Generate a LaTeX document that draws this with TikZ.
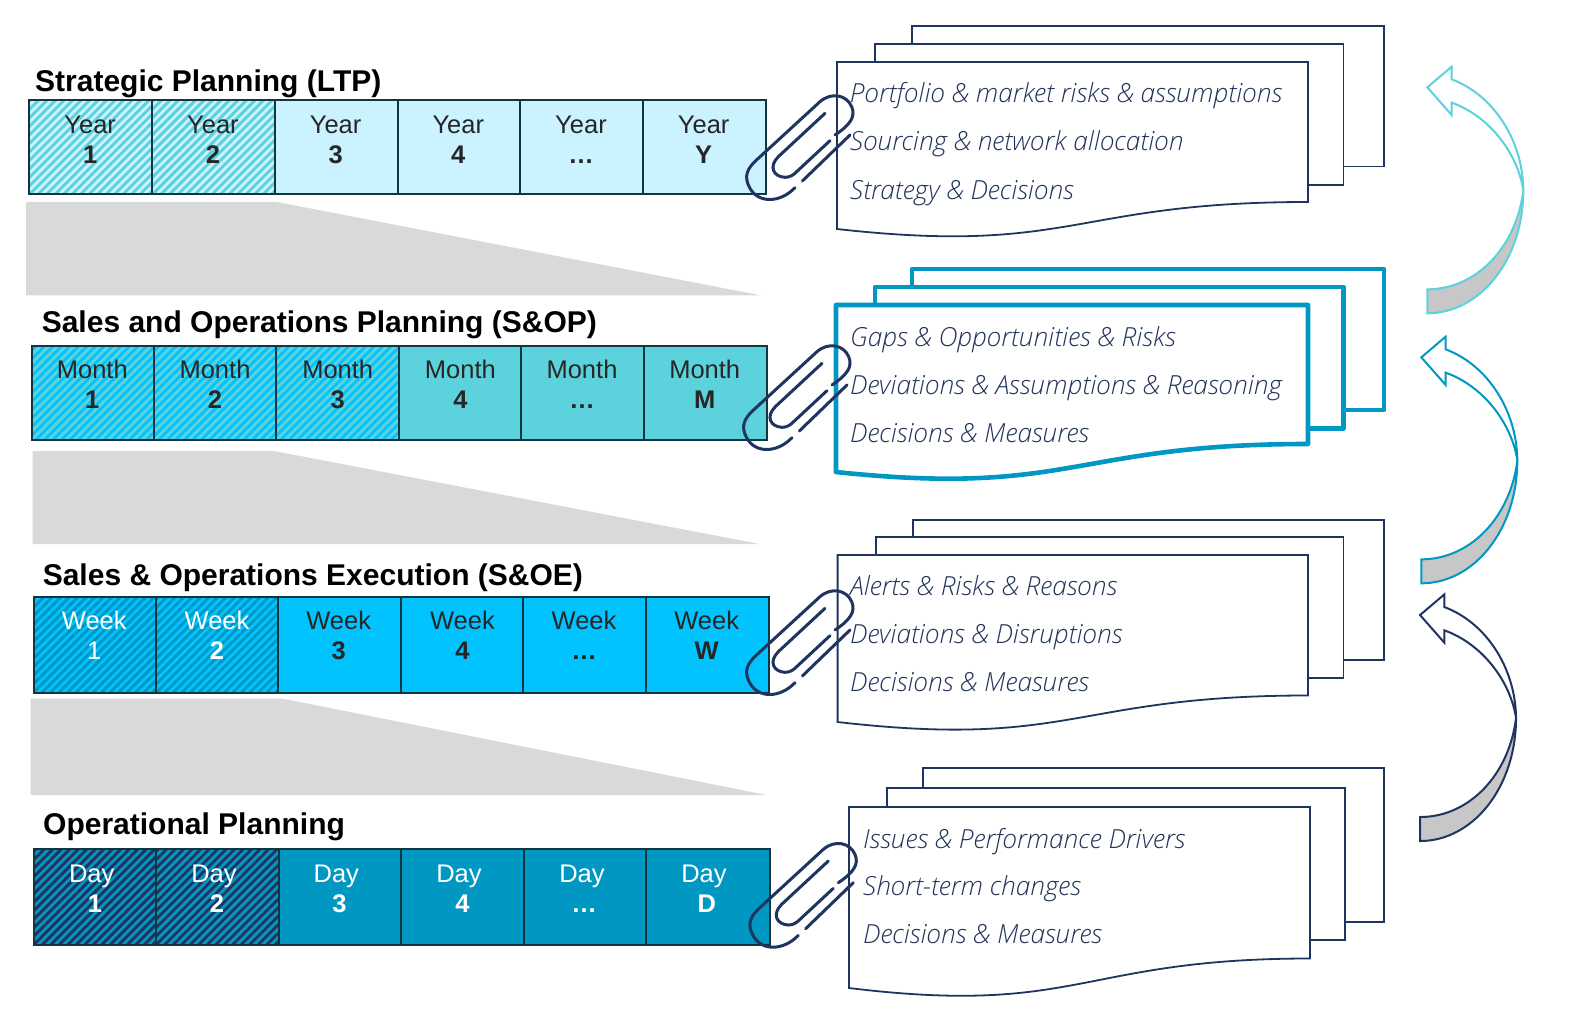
\documentclass[tikz,border=0pt]{standalone}
\usepackage{fontspec}
\setmainfont{Liberation Sans}
\newfontfamily\docfont[ItalicFont={Open Sans Light Italic}]{Open Sans Light}
\definecolor{navy}{HTML}{1F3560}
\definecolor{teal}{HTML}{5CD2DC}
\definecolor{pale}{HTML}{CBF2FF}
\definecolor{sky}{HTML}{00C3FF}
\definecolor{ocean}{HTML}{0098C3}
\definecolor{trapgrey}{HTML}{D9D9D9}
\definecolor{inkline}{HTML}{12363F}
\definecolor{doctext}{HTML}{22335A}
\tikzset{
  title/.style={anchor=base west,font=\fontsize{30}{30}\selectfont\bfseries,inner sep=0,text=black},
  cellbox/.style={draw=inkline,line width=2pt},
  celltop/.style={anchor=base,font=\fontsize{25.5}{25.5}\selectfont,inner sep=0},
  cellnum/.style={anchor=base,font=\fontsize{25.5}{25.5}\selectfont\bfseries,inner sep=0},
  trap/.style={fill=trapgrey,draw=none},
  sheet/.style={fill=white,draw=navy,line width=1.8pt,line join=miter},
  boldsheet/.style={fill=white,draw=ocean,line width=4.6pt,line join=round},
  doctxt/.style={anchor=base west,font=\docfont\itshape\fontsize{26.3}{26.3}\selectfont,inner sep=0,text=doctext},
  clipline/.style={draw=navy,line width=3pt,line cap=round},
}
% plain cell: x0 x1 y0 y1 fill
\newcommand{\plaincell}[5]{\path[cellbox,fill=#5] (#1,#3) rectangle (#2,#4);}
% hatched cell: x0 x1 y0 y1 fill stripe
\newcommand{\hatchcell}[6]{%
  \fill[#5] (#1,#3) rectangle (#2,#4);
  \begin{scope}
    \clip (#1,#3) rectangle (#2,#4);
    \foreach \k in {-12,...,15}{
      \draw[#6,line width=2.9pt] ({#1+\k*8.5},{#4}) -- ++(120,-120);
    }
  \end{scope}
  \draw[cellbox] (#1,#3) rectangle (#2,#4);}
% paper: left top right bry bly style
\newcommand{\paper}[6]{%
  \path[#6] (#1,#2) -- (#3,#2) -- (#3,#4)
    .. controls ({(#1+#3)/2},#4) and ({(#1+#3)/2},{#2+(#4-#2)*1.381}) .. (#1,#5) -- cycle;}
\newcommand{\backsheet}[5]{\path[#5] (#1,#2) rectangle (#3,#4);}
% clip
\newcommand{\paperclip}[2]{%
  \begin{scope}[shift={(#1,#2)},xscale=1/3,yscale=1/3]
    \draw[clipline] (195,563) .. controls (150,610) and (85,610) .. (60,565)
      .. controls (40,530) and (50,505) .. (85,475) -- (270,305)
      .. controls (305,275) and (350,285) .. (365,320)
      .. controls (378,350) and (360,375) .. (315,405);
    \draw[clipline] (285,340) -- (145,470) .. controls (115,500) and (130,530) .. (165,532)
      .. controls (180,532) and (190,525) .. (200,515) -- (300,422);
    \draw[clipline] (217,543) -- (360,405);
  \end{scope}}
% curved arrow
\newcommand{\turnarrow}[3]{%
  \begin{scope}[shift={(#1,#2)},xscale=1/3,yscale=1/3]
    \fill[black!22] (142,748) .. controls (290,748) and (410,620) .. (430,450)
      .. controls (430,660) and (300,820) .. (142,820) -- cycle;
    \draw[#3,line width=2pt,line join=miter]
      (142,748) .. controls (290,748) and (410,620) .. (430,450)
      .. controls (410,330) and (320,225) .. (215,188) -- (215,225) -- (142,142) -- (215,80) -- (215,118)
      .. controls (340,165) and (428,300) .. (430,450)
      .. controls (430,660) and (300,820) .. (142,820) -- cycle;
  \end{scope}}
\begin{document}
\begin{tikzpicture}[x=1pt,y=-1pt]
\useasboundingbox (0,0) rectangle (1590,1016);
\fill[white] (0,0) rectangle (1590,1016);
% trapezoids
\fill[trap] (26,202) -- (277,202) -- (761.5,295.5) -- (26,295.5) -- cycle;
\fill[trap] (32.5,451) -- (274,451) -- (759.5,544) -- (32.5,544) -- cycle;
\fill[trap] (30.5,698.5) -- (282,698.5) -- (766.6,795) -- (30.5,795) -- cycle;
% row 1
\node[title] (t1) at (35,92) {Strategic Planning (LTP)};
\hatchcell{29.4}{152.3}{100.5}{194.5}{pale}{teal}
\hatchcell{152.3}{275}{100.5}{194.5}{pale}{teal}
\plaincell{275}{398}{100.5}{194.5}{pale}
\plaincell{398}{520}{100.5}{194.5}{pale}
\plaincell{520}{643}{100.5}{194.5}{pale}
\plaincell{643}{765.5}{100.5}{194.5}{pale}
\foreach \n/\x/\a/\b in {a/90.2/Year/1,b/212.9/Year/2,c/335.6/Year/3,d/458.3/Year/4,e/581/Year/…,f/703.7/Year/Y}{
  \node[celltop,text=black!85] (y\n) at (\x,134) {\a};
  \node[cellnum,text=black!85] (yy\n) at (\x,164) {\b};
}
% row 2
\node[title] (t2) at (41.6,332) {Sales and Operations Planning (S\&OP)};
\hatchcell{31.5}{154.3}{346}{440}{sky}{teal}
\hatchcell{154.3}{276.2}{346}{440}{sky}{teal}
\hatchcell{276.2}{399}{346}{440}{sky}{teal}
\plaincell{399}{521}{346}{440}{teal}
\plaincell{521}{644}{346}{440}{teal}
\plaincell{644}{766.5}{346}{440}{teal}
\foreach \n/\x/\a/\b in {a/92.3/Month/1,b/215/Month/2,c/337.7/Month/3,d/460.4/Month/4,e/582/Month/…,f/704.7/Month/M}{
  \node[celltop,text=black!85] (m\n) at (\x,378) {\a};
  \node[cellnum,text=black!85] (mm\n) at (\x,408) {\b};
}
% row 3
\node[title] (t3) at (42.6,585) {Sales \& Operations Execution (S\&OE)};
\hatchcell{33.5}{156.4}{597}{692.5}{sky}{ocean}
\hatchcell{156.4}{278.2}{597}{692.5}{sky}{ocean}
\plaincell{278.2}{401}{597}{692.5}{sky}
\plaincell{401}{523}{597}{692.5}{sky}
\plaincell{523}{646}{597}{692.5}{sky}
\plaincell{646}{768.5}{597}{692.5}{sky}
\foreach \n/\x/\a/\c in {a/94.3/Week/white,b/217/Week/white,c/338.7/Week/black!85,d/462.4/Week/black!85,e/584/Week/black!85,f/706.7/Week/black!85}{
  \node[celltop,text=\c] (w\n) at (\x,629) {\a};
}
\node[celltop,text=white] (wwa) at (94.3,659) {1};
\foreach \n/\x/\b/\c in {b/217/2/white,c/338.7/3/black!85,d/462.4/4/black!85,e/584/…/black!85,f/706.7/W/black!85}{
  \node[cellnum,text=\c] (ww\n) at (\x,659) {\b};
}
% row 4
\node[title] (t4) at (43,834) {Operational Planning};
\hatchcell{34}{156.3}{849}{944.5}{ocean}{navy}
\hatchcell{156.3}{279.3}{849}{944.5}{ocean}{navy}
\plaincell{279.3}{401}{849}{944.5}{ocean}
\plaincell{401}{524}{849}{944.5}{ocean}
\plaincell{524}{646}{849}{944.5}{ocean}
\plaincell{646}{769.5}{849}{944.5}{ocean}
\foreach \n/\x/\a/\y/\b in {a/91.7/Day/95/1,b/214/Day/217/2,c/336.3/Day/339.5/3,d/459/Day/462.5/4,e/582/Day/584/…,f/704/Day/706.7/D}{
  \node[celltop,text=white] (d\n) at (\x,882) {\a};
  \node[cellnum,text=white] (dd\n) at (\y,912) {\b};
}
% documents
\backsheet{912}{26}{1384}{166.5}{sheet}
\backsheet{875}{44}{1343.5}{185}{sheet}
\paper{837}{62}{1308}{202}{229}{sheet}
\node[doctxt] (p1a) at (849.7,103) {\textit{Portfolio \& market risks \& assumptions}};
\node[doctxt] (p1b) at (850,151) {\textit{Sourcing \& network allocation}};
\node[doctxt] (p1c) at (850,199.7) {\textit{Strategy \& Decisions}};
\backsheet{912}{269}{1384}{410}{boldsheet}
\backsheet{875}{287}{1343.5}{428.5}{boldsheet}
\paper{836}{305}{1308}{444}{472}{boldsheet}
\node[doctxt] (p2a) at (850,346) {\textit{Gaps \& Opportunities \& Risks}};
\node[doctxt] (p2b) at (850,394) {\textit{Deviations \& Assumptions \& Reasoning}};
\node[doctxt] (p2c) at (850,442.7) {\textit{Decisions \& Measures}};
\backsheet{913}{520}{1384}{660}{sheet}
\backsheet{876}{537}{1343.5}{678}{sheet}
\paper{837.6}{555}{1308}{695.5}{722}{sheet}
\node[doctxt] (p3a) at (850,595) {\textit{Alerts \& Risks \& Reasons}};
\node[doctxt] (p3b) at (850,643) {\textit{Deviations \& Disruptions}};
\node[doctxt] (p3c) at (850,691.5) {\textit{Decisions \& Measures}};
\backsheet{923}{768}{1384}{922}{sheet}
\backsheet{887}{788}{1345}{940}{sheet}
\paper{849}{807}{1310}{958.5}{988}{sheet}
\node[doctxt] (p4a) at (863,848.7) {\textit{Issues \& Performance Drivers}};
\node[doctxt] (p4b) at (863,895.7) {\textit{Short-term changes}};
\node[doctxt] (p4c) at (863,943.7) {\textit{Decisions \& Measures}};
% clips
\paperclip{730}{0}
\paperclip{727}{250}
\paperclip{730}{495}
\paperclip{733.3}{747.7}
% arrows
\turnarrow{1380}{40}{teal}
\turnarrow{1374}{310}{ocean}
\turnarrow{1372.7}{567.7}{navy}
\end{tikzpicture}
\end{document}
